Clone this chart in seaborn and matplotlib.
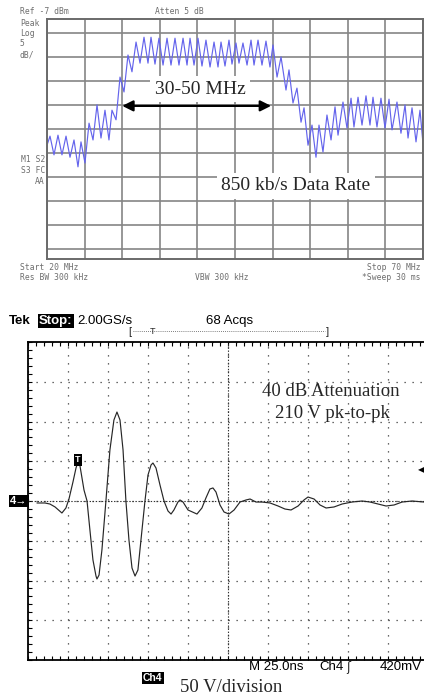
import matplotlib
matplotlib.use("Agg")
import matplotlib.pyplot as plt
from matplotlib.lines import Line2D
from matplotlib.ticker import MultipleLocator
import pandas as pd
import seaborn as sns

sns.set_theme(style="white")
plt.rcParams["font.family"] = ["DejaVu Sans"]
plt.rcParams["lines.scale_dashes"] = False

W, H = 424, 698

# spectrum analyzer: ripple peaks / troughs of the trace (MHz, dBm)
peak_mhz = [20.40, 21.46, 22.53, 23.59, 24.52, 25.59, 26.65, 27.71, 28.64, 29.71,
            30.77, 31.84, 32.90, 33.83, 34.89, 35.96, 37.02, 38.09, 39.02, 40.08,
            41.14, 42.21, 43.14, 44.20, 45.13, 46.06, 47.13, 48.06, 49.12, 50.05,
            51.12, 52.18, 53.24, 54.18, 55.24, 56.17, 57.23, 58.30, 59.36, 60.43,
            61.36, 62.42, 63.35, 64.41, 65.48, 66.54, 67.61, 68.54, 69.60]
peak_dbm = [-31.4, -31.2, -31.4, -32.2, -32.6, -28.7, -24.9, -26.0, -26.0, -19.1,
            -14.5, -11.8, -10.8, -10.8, -11.0, -11.0, -11.0, -11.0, -11.0, -11.0,
            -11.4, -11.8, -11.8, -11.4, -12.0, -12.0, -11.4, -11.4, -11.6, -12.4,
            -14.9, -17.6, -21.4, -25.5, -29.1, -29.1, -27.0, -25.3, -24.3, -23.5,
            -23.3, -23.0, -23.3, -23.5, -23.7, -24.3, -24.9, -25.5, -26.0]
trough_mhz = [20.00, 20.93, 21.99, 23.06, 24.12, 25.05, 26.12, 27.18, 28.24, 29.18, 30.24,
              31.30, 32.37, 33.43, 34.36, 35.43, 36.49, 37.55, 38.62, 39.55, 40.61,
              41.68, 42.74, 43.67, 44.60, 45.53, 46.60, 47.53, 48.59, 49.65, 50.59,
              51.78, 52.71, 53.78, 54.71, 55.77, 56.70, 57.77, 58.70, 59.89, 60.82,
              61.89, 62.95, 63.88, 64.95, 65.88, 67.07, 68.01, 69.07, 70.00]
trough_dbm = [-33.3, -35.3, -35.3, -35.8, -37.8, -37.0, -32.2, -31.8, -32.2, -28.0, -22.2,
              -18.0, -16.2, -16.2, -16.4, -16.6, -16.6, -16.6, -16.6, -16.6, -16.8,
              -17.0, -17.0, -16.8, -16.4, -16.2, -16.6, -16.6, -16.6, -17.0, -19.1,
              -21.8, -24.5, -28.5, -33.3, -35.8, -34.7, -32.2, -31.2, -29.7, -29.5,
              -29.1, -29.1, -29.5, -29.7, -30.1, -30.8, -31.8, -32.6, -33.0]
band_mhz = [30.0, 49.8]
band_dbm = -25.1

# oscilloscope trace (ns, V)
scope_ns = [-119.4, -114.4, -111.3, -108.1, -103.8, -101.3, -99.4, -96.9, -95.0, -93.8,
            -92.5, -90.0, -88.1, -86.3, -84.4, -82.5, -81.9, -80.6, -78.8, -76.3,
            -73.8, -71.3, -69.4, -67.5, -65.6, -63.8, -61.9, -60.0, -58.1, -56.3,
            -54.4, -51.9, -50.0, -48.1, -46.9, -45.0, -42.5, -40.0, -37.5, -35.6,
            -33.8, -31.3, -30.0, -28.1, -25.0, -19.4, -16.3, -13.8, -11.3, -9.4,
            -7.5, -5.0, -2.5, 0.6, 3.8, 7.5, 11.3, 13.8, 17.5, 21.3,
            26.3, 31.3, 35.6, 39.4, 43.8, 47.5, 50.0, 53.8, 57.5, 61.3,
            66.3, 71.3, 77.5, 83.8, 88.8, 93.8, 98.8, 103.8, 108.8, 115.0, 122.5]
scope_v = [-2.5, -2.5, -3.8, -7.5, -15.1, -8.8, 2.5, 23.9, 41.5, 49.1,
           44.0, 13.8, 0.0, -36.5, -74.2, -94.4, -98.1, -93.1, -61.6, 0.0,
           64.2, 101.9, 111.9, 101.9, 64.2, 0.0, -49.1, -84.3, -94.4, -86.8,
           -49.1, 0.0, 32.7, 45.3, 47.8, 41.5, 20.1, 0.0, -12.6, -16.4,
           -11.3, -1.3, 1.3, -1.3, -11.3, -16.4, -8.8, 3.8, 15.1, 16.4,
           11.3, -5.0, -13.8, -16.4, -11.3, -1.3, 1.3, 2.5, -1.3, -1.3,
           -2.5, -6.3, -10.1, -11.3, -6.3, 1.3, 5.0, 2.5, -5.0, -8.8,
           -7.5, -3.8, -1.3, 0.0, -1.3, -3.8, -6.3, -5.0, -1.3, 0.0, -1.3]

SERIF = ["Liberation Serif", "DejaVu Serif"]
SANS = ["Liberation Sans", "DejaVu Sans"]
MONO = ["DejaVu Sans Mono"]


def fx(px):
    return px / W


def fy(py):
    return 1 - py / H


fig = plt.figure(figsize=(W / 100, H / 100), dpi=100)

# ---------------- spectrum analyzer ----------------
spec = pd.concat([
    pd.DataFrame({"mhz": peak_mhz, "dbm": peak_dbm}),
    pd.DataFrame({"mhz": trough_mhz, "dbm": trough_dbm}),
]).sort_values("mhz")

ax1 = fig.add_axes([fx(47), fy(259), 376 / W, 240 / H])
ax1.set_xlim(20, 70)
ax1.set_ylim(-57, -7)
ax1.xaxis.set_major_locator(MultipleLocator(5))
ax1.yaxis.set_major_locator(MultipleLocator(5))
ax1.grid(True, color="#858585", lw=1.2)
ax1.tick_params(length=0, labelbottom=False, labelleft=False)
for sp in ax1.spines.values():
    sp.set_color("#6a6a6a")
    sp.set_linewidth(1.4)
sns.lineplot(data=spec, x="mhz", y="dbm", ax=ax1, color="#6464ec", lw=0.85,
             estimator=None, sort=True)
ax1.set_xlabel("")
ax1.set_ylabel("")
ax1.annotate("", xy=(band_mhz[0], band_dbm), xytext=(band_mhz[1], band_dbm),
             arrowprops=dict(arrowstyle="<|-|>", color="black", lw=1.6,
                             mutation_scale=16, shrinkA=0, shrinkB=0))

inst = dict(family=MONO, size=5.8, color="#6e6e6e", va="center")
fig.text(fx(20), fy(12), "Ref -7 dBm", **inst)
fig.text(fx(155), fy(12), "Atten 5 dB", **inst)
for i, s in enumerate(["Peak", "Log", "5", "dB/"]):
    fig.text(fx(20), fy(23 + 10.5 * i), s, **inst)
for i, s in enumerate(["M1 S2", "S3 FC", "AA"]):
    fig.text(fx(45), fy(159 + 11.5 * i), s, ha="right", **inst)
fig.text(fx(20), fy(267), "Start 20 MHz", **inst)
fig.text(fx(20), fy(277), "Res BW 300 kHz", **inst)
fig.text(fx(195), fy(277), "VBW 300 kHz", **inst)
fig.text(fx(421), fy(267), "Stop 70 MHz", ha="right", **inst)
fig.text(fx(421), fy(277), "*Sweep 30 ms", ha="right", **inst)

box = dict(boxstyle="square,pad=0.25", fc="white", ec="none")
fig.text(fx(200), fy(89), "30-50 MHz", family=SERIF, size=14, ha="center",
         va="center", bbox=box)
fig.text(fx(296), fy(186), "850 kb/s Data Rate", family=SERIF, size=14,
         ha="center", va="center", bbox=box)

# ---------------- oscilloscope ----------------
ax2 = fig.add_axes([fx(28), fy(660), 400 / W, 318 / H])
ax2.set_xlim(-125, 125)
ax2.set_ylim(-200, 200)
ax2.xaxis.set_major_locator(MultipleLocator(25))
ax2.yaxis.set_major_locator(MultipleLocator(50))
ax2.xaxis.set_minor_locator(MultipleLocator(5))
ax2.yaxis.set_minor_locator(MultipleLocator(10))
ax2.grid(True, which="major", color="#3a3a3a", lw=0.9, linestyle=(0, (0.9, 4.86)))
ax2.tick_params(which="both", direction="in", length=3, width=0.8, color="black",
                top=True, bottom=True, left=True, right=False,
                labelbottom=False, labelleft=False)
for name, sp in ax2.spines.items():
    sp.set_color("black")
    sp.set_linewidth(1.3)
ax2.spines["right"].set_visible(False)
ax2.axhline(0, color="#333333", lw=0.8, linestyle=(0, (1, 1.2)))
ax2.axvline(0, color="#333333", lw=0.8, linestyle=(0, (1, 1.2)))

# center cross with tick marks
ax3 = fig.add_axes([fx(28), fy(660), 400 / W, 318 / H])
ax3.set_xlim(-125, 125)
ax3.set_ylim(-200, 200)
ax3.patch.set_visible(False)
ax3.spines["top"].set_visible(False)
ax3.spines["right"].set_visible(False)
ax3.spines["left"].set_position(("data", 0))
ax3.spines["bottom"].set_position(("data", 0))
for name in ["left", "bottom"]:
    ax3.spines[name].set_visible(False)
ax3.xaxis.set_major_locator(MultipleLocator(25))
ax3.yaxis.set_major_locator(MultipleLocator(50))
ax3.xaxis.set_minor_locator(MultipleLocator(5))
ax3.yaxis.set_minor_locator(MultipleLocator(10))
ax3.tick_params(which="both", direction="inout", length=4.5, width=0.7,
                color="#222222", labelbottom=False, labelleft=False)

sns.lineplot(x=scope_ns, y=scope_v, ax=ax2, color="#262626", lw=0.85,
             estimator=None, sort=False, zorder=5)

# header
hdr = dict(family=SANS, size=9.5, va="center", color="black")
fig.text(fx(9), fy(321), "Tek", weight="bold", **hdr)
fig.text(fx(39), fy(321), "Stop:", color="white", weight="bold", family=SANS,
         size=9.5, va="center",
         bbox=dict(boxstyle="square,pad=0.08", fc="black", ec="none"))
fig.text(fx(77), fy(321), "2.00GS/s", **hdr)
fig.text(fx(206), fy(321), "68 Acqs", **hdr)
fig.text(fx(128), fy(332), "[", family=SANS, size=8, va="center")
fig.text(fx(152), fy(331), "T", family=SANS, size=6.5, va="center", ha="center")
fig.text(fx(326), fy(332), "]", family=SANS, size=8, va="center")
fig.add_artist(Line2D([fx(133), fx(325)], [fy(331), fy(331)],
                      transform=fig.transFigure, color="#555555", lw=0.6,
                      linestyle=(0, (0.6, 0.9))))

# markers
fig.text(fx(78), fy(460), "T", color="white", weight="bold", family=SANS,
         size=6.5, ha="center", va="center",
         bbox=dict(boxstyle="square,pad=0.15", fc="black", ec="none"))
fig.text(fx(19), fy(501), "4\u2192", color="white", weight="bold", family=SANS,
         size=8, ha="center", va="center",
         bbox=dict(boxstyle="square,pad=0.1", fc="black", ec="none"))
fig.text(fx(421), fy(470), "\u25c0", color="black", size=6, ha="center",
         va="center")

fig.text(fx(331), fy(392), "40 dB Attenuation", family=SERIF, size=13.5,
         ha="center", va="center")
fig.text(fx(332), fy(413), "210 V pk-to-pk", family=SERIF, size=13.5,
         ha="center", va="center")

# footer
fig.text(fx(249), fy(667), "M 25.0ns", **hdr)
fig.text(fx(319), fy(667), "Ch4", **hdr)
fig.text(fx(346), fy(667), "\u0283", family=["DejaVu Sans"], size=8.5,
         va="center")
fig.text(fx(422), fy(667), "420mV", ha="right", **hdr)
fig.text(fx(143), fy(678), "Ch4", color="white", weight="bold", family=SANS,
         size=7.5, va="center",
         bbox=dict(boxstyle="square,pad=0.1", fc="black", ec="none"))
fig.text(fx(180), fy(688), "50 V/division", family=SERIF, size=13.5,
         va="center")

fig.savefig("out.png", dpi=100)
plt.close(fig)
